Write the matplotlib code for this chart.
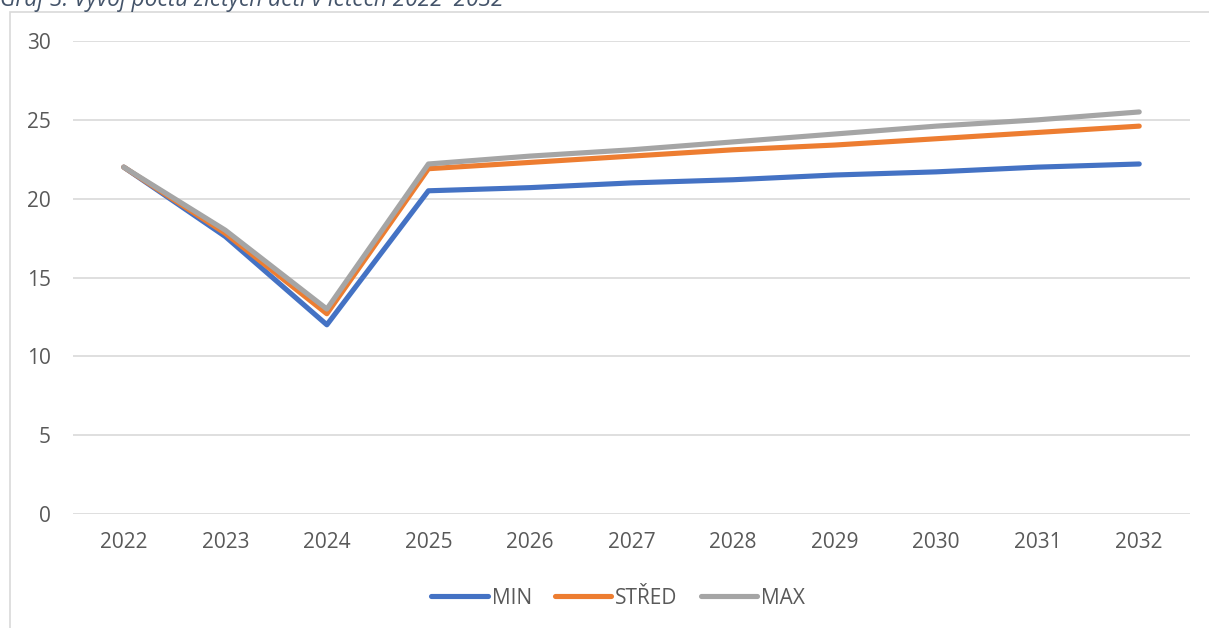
import matplotlib
matplotlib.use('Agg')
import matplotlib.pyplot as plt
from matplotlib.patches import Rectangle

plt.rcParams['font.family'] = ['Open Sans', 'DejaVu Sans']

years = [2022, 2023, 2024, 2025, 2026, 2027, 2028, 2029, 2030, 2031, 2032]
val_min = [22.0, 17.6, 12.0, 20.5, 20.7, 21.0, 21.2, 21.5, 21.7, 22.0, 22.2]
val_stred = [22.0, 17.8, 12.7, 21.9, 22.3, 22.7, 23.1, 23.4, 23.8, 24.2, 24.6]
val_max = [22.0, 18.0, 13.0, 22.2, 22.7, 23.1, 23.6, 24.1, 24.6, 25.0, 25.5]
yticks = [0, 5, 10, 15, 20, 25, 30]

series = [('MIN', val_min, '#4472C4'),
          ('STŘED', val_stred, '#ED7D31'),
          ('MAX', val_max, '#A5A5A5')]

fig = plt.figure(figsize=(12.09, 6.28), dpi=100)

# chart frame (cut off on the right and bottom)
fig.patches.append(Rectangle((10/1209, -0.05), 1.1, 1 - 12/628 + 0.05,
                             transform=fig.transFigure, fill=False,
                             edgecolor='#d9d9d9', linewidth=1.2))

fig.text(0.0, 1 - 6/628, 'Graf 3: Vývoj počtu zletých dětí v letech 2022–2032',
         fontsize=16.3, style='italic', color='#44546A', va='baseline', ha='left')

ax = fig.add_axes([73/1209, 1 - 514/628, (1190 - 73)/1209, (514 - 41)/628])

for name, vals, col in series:
    ax.plot(years, vals, color=col, linewidth=3.7, label=name,
            solid_capstyle='round', solid_joinstyle='round')

ax.set_xlim(2021.5, 2032.5)
ax.set_ylim(0, 30)
ax.set_xticks(years)
ax.set_yticks(yticks)
ax.grid(axis='y', color='#d9d9d9', linewidth=1.2)
ax.set_axisbelow(True)
for s in ax.spines.values():
    s.set_visible(False)
ax.tick_params(length=0, labelsize=15, labelcolor='#595959')
ax.tick_params(axis='y', pad=16)
ax.tick_params(axis='x', pad=13)

leg = ax.legend(loc='center', bbox_to_anchor=(0.488, (598 - 514) / -473), ncol=3,
                frameon=False, fontsize=15, handlelength=2.7, handletextpad=0.2,
                columnspacing=1.1, borderaxespad=0)
for t in leg.get_texts():
    t.set_color('#595959')

fig.savefig('out.png', dpi=100)
